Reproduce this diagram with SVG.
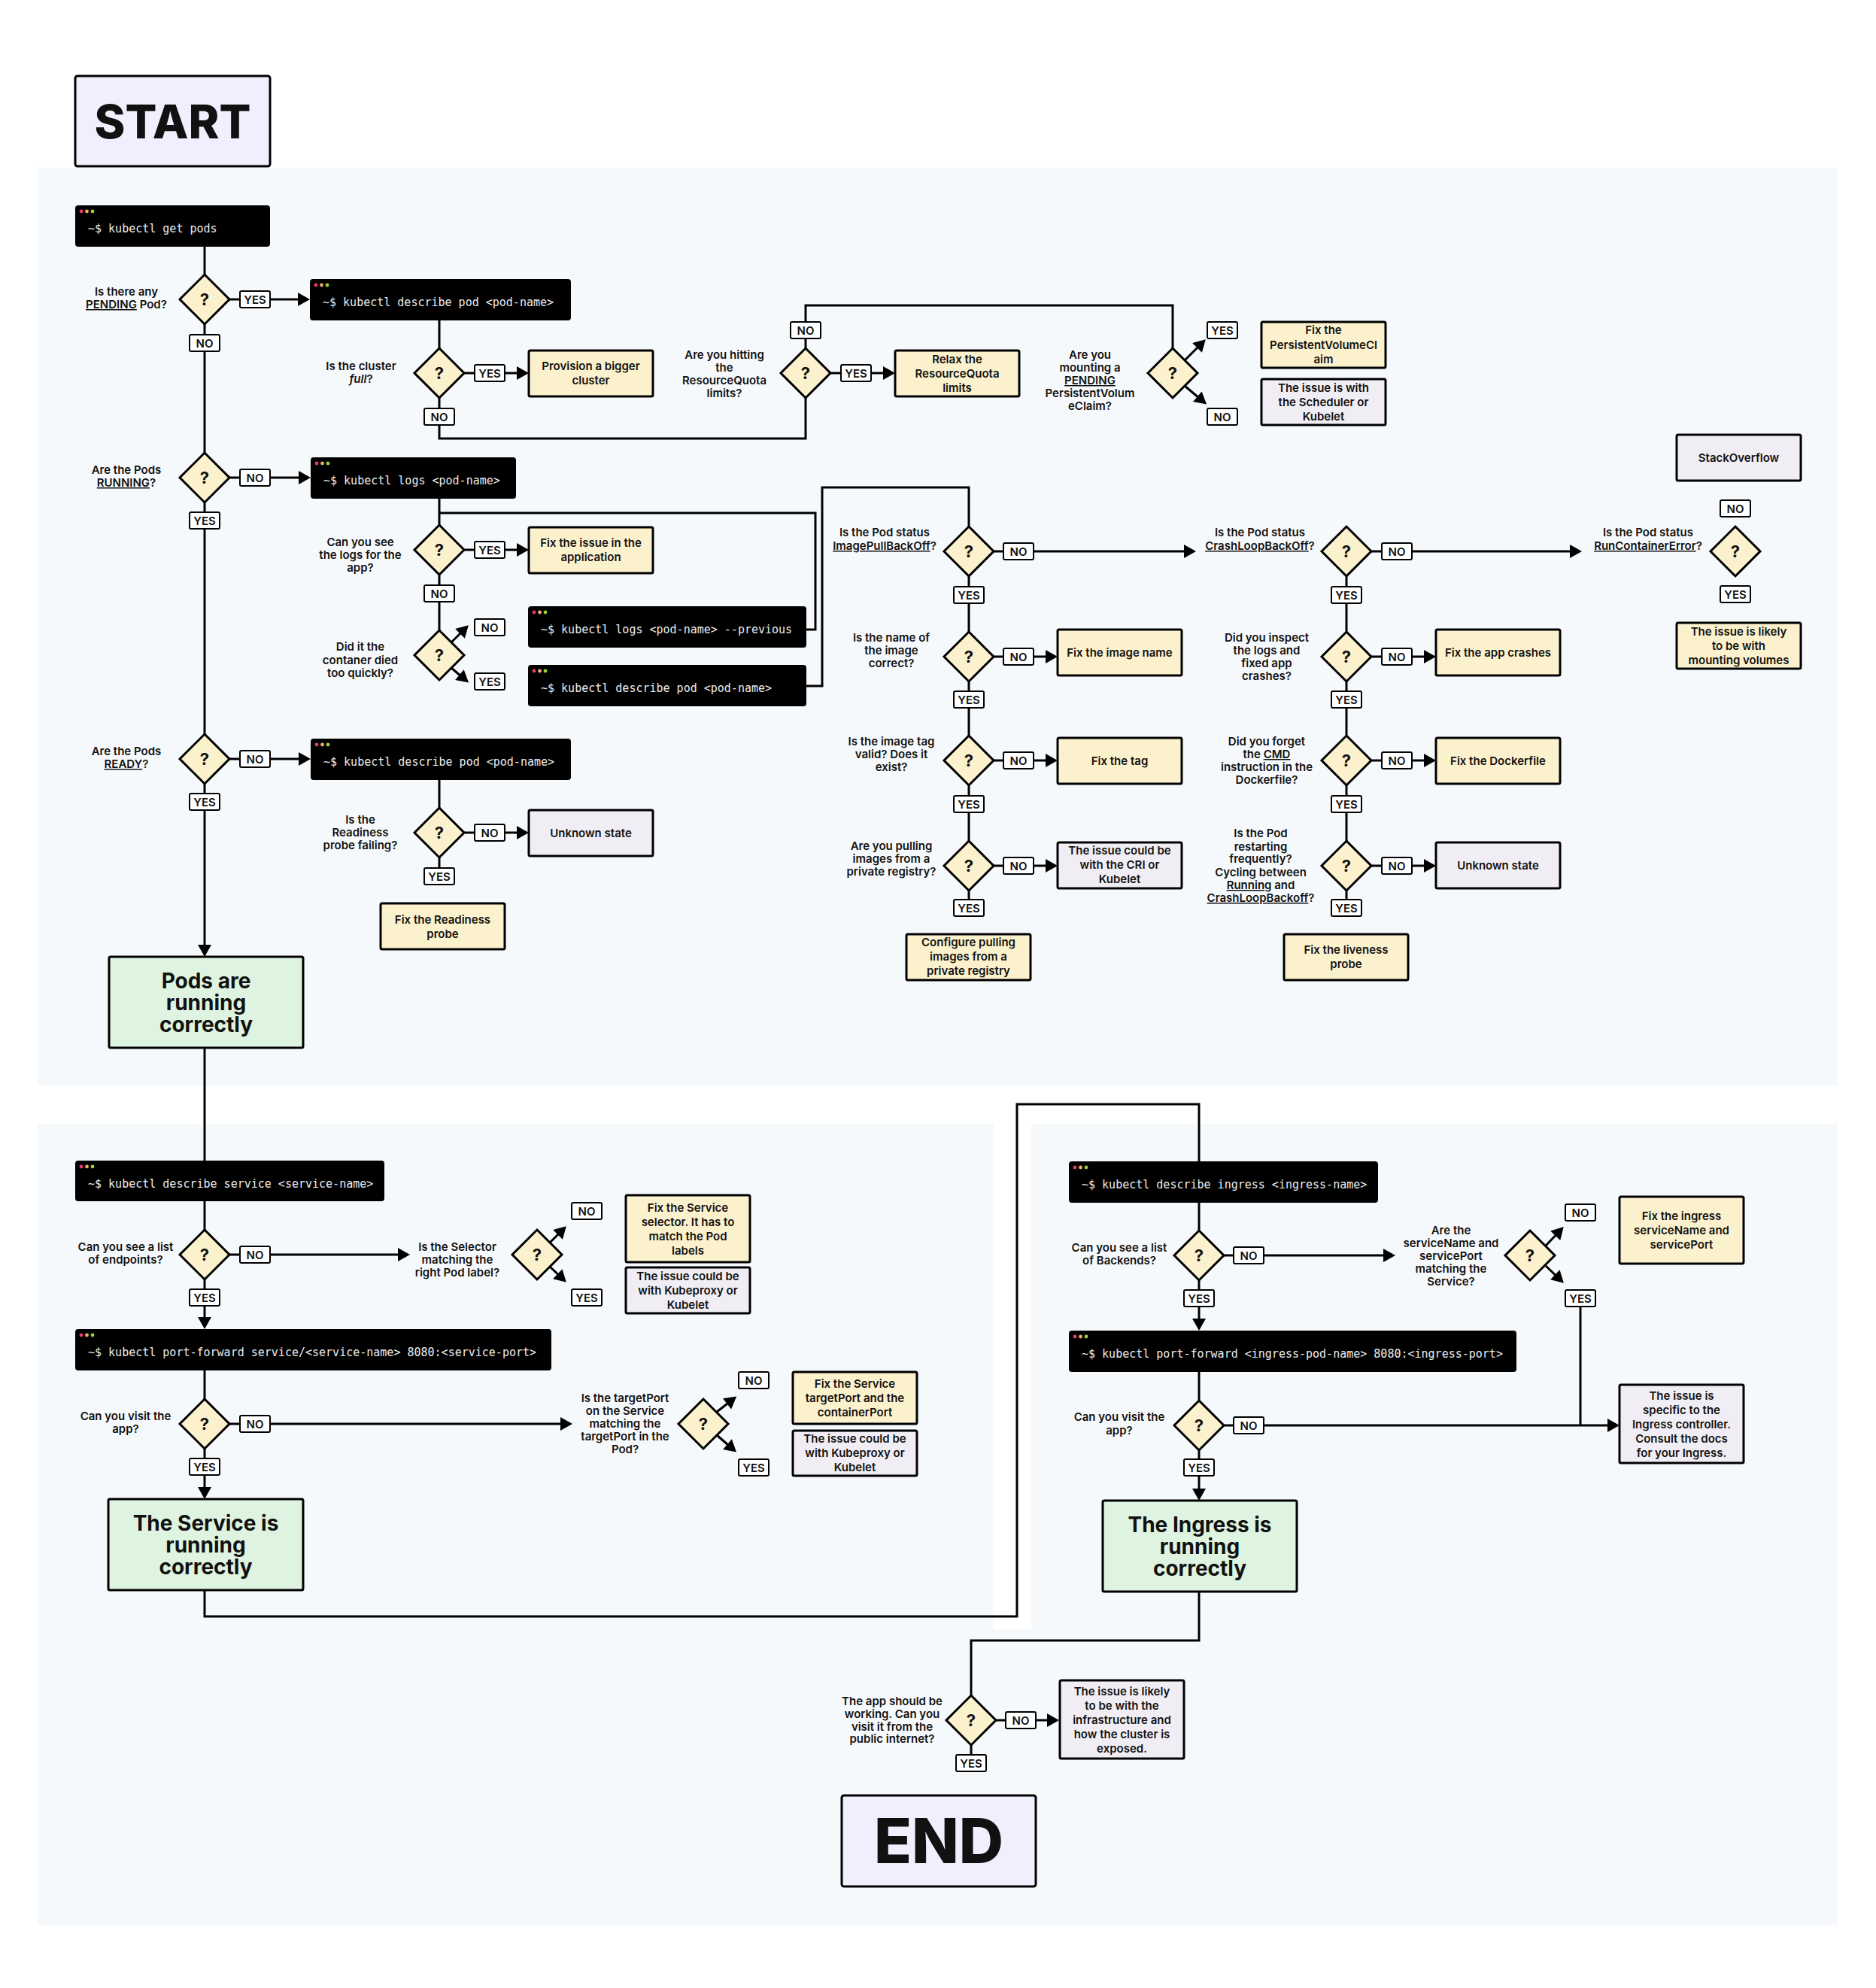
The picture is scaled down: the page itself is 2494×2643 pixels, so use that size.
<svg xmlns="http://www.w3.org/2000/svg" width="2494" height="2643" viewBox="0 0 2494 2643">
<defs>
<style>
.panel{fill:#f6f9fc}
.term{fill:#000}
.tt{font-family:"DejaVu Sans Mono","Liberation Mono",monospace;font-size:15px;fill:#ececec}
.box{stroke:#000;stroke-width:3}
.cream{fill:#fcf1cd}
.gray{fill:#f0eef4}
.green{fill:#dff4e0}
.lav{fill:#f0effd}
.dia{fill:#fcf1cd;stroke:#000;stroke-width:3;stroke-linejoin:miter}
.lb{fill:#fff;stroke:#000;stroke-width:2}
.t{font-family:Inter,"Noto Sans",sans-serif;font-weight:600;font-size:15px;fill:#111;text-anchor:middle}
.q{font-size:22px;font-weight:700}
.big{font-size:28px;font-weight:700}
.huge{font-weight:800}
.u{text-decoration:underline}
.i{font-style:italic}
.c{fill:none;stroke:#000;stroke-width:3}
.ca{fill:none;stroke:#000;stroke-width:3;marker-end:url(#ah)}
.d1{fill:#ee3a6c}.d2{fill:#eab06a}.d3{fill:#9fd131}
</style>
<marker id="ah" markerUnits="userSpaceOnUse" markerWidth="18" markerHeight="18" viewBox="0 0 16 18" refX="12" refY="9" orient="auto"><path d="M0,0 L16,9 L0,18 z" fill="#000"/></marker>
<g id="dots"><circle class="d1" cx="8" cy="8" r="2.4"/><circle class="d2" cx="15.5" cy="8" r="2.4"/><circle class="d3" cx="23" cy="8" r="2.4"/></g>
<polygon id="dm" points="0,-33 33,0 0,33 -33,0"/>
</defs>

<g id="panels">
<rect class="panel" x="50" y="223" width="2393" height="1220"/>
<rect class="panel" x="50" y="1494" width="1271" height="672"/>
<rect class="panel" x="1371" y="1494" width="1072" height="672"/>
<rect class="panel" x="50" y="2166" width="2393" height="393"/>
</g>

<g id="connectors">
<path class="c" d="M272,328 V365"/>
<path class="ca" d="M305,398 H408"/>
<path class="c" d="M272,431 V602"/>
<path class="c" d="M584,426 V463"/>
<path class="ca" d="M617,496 H699"/>
<path class="c" d="M584,529 V583 H1071 V529"/>
<path class="c" d="M1071,463 V406 H1559 V463"/>
<path class="ca" d="M1104,496 H1186"/>
<path class="ca" d="M1575,479 L1600,454"/>
<path class="ca" d="M1575,513 L1601,535"/>

<path class="ca" d="M305,635 H409"/>
<path class="c" d="M272,668 V976"/>
<path class="c" d="M584,663 V698"/>
<path class="c" d="M584,682 H1084 V837 H1072"/>
<path class="ca" d="M617,731 H699"/>
<path class="c" d="M584,764 V838"/>
<path class="ca" d="M600,854 L620,834"/>
<path class="ca" d="M600,888 L620,905"/>
<path class="c" d="M1072,912 H1093 V648 H1288 V700"/>

<path class="ca" d="M305,1009 H409"/>
<path class="ca" d="M272,1042 V1268"/>
<path class="c" d="M584,1037 V1074"/>
<path class="ca" d="M617,1107 H699"/>
<path class="c" d="M584,1140 V1154"/>

<path class="ca" d="M1321,733 H1586"/>
<path class="c" d="M1288,766 V840"/>
<path class="ca" d="M1321,873 H1402"/>
<path class="c" d="M1288,906 V979"/>
<path class="ca" d="M1321,1011 H1402"/>
<path class="c" d="M1288,1044 V1118"/>
<path class="ca" d="M1321,1151 H1402"/>
<path class="c" d="M1288,1184 V1196"/>

<path class="ca" d="M1823,733 H2099"/>
<path class="c" d="M1790,766 V840"/>
<path class="ca" d="M1823,873 H1905"/>
<path class="c" d="M1790,906 V979"/>
<path class="ca" d="M1823,1011 H1905"/>
<path class="c" d="M1790,1044 V1118"/>
<path class="ca" d="M1823,1151 H1905"/>
<path class="c" d="M1790,1184 V1196"/>

<path class="c" d="M272,1393 V1543"/>
<path class="c" d="M272,1597 V1635"/>
<path class="ca" d="M305,1668 H541"/>
<path class="ca" d="M731,1652 L750,1633"/>
<path class="ca" d="M731,1684 L750,1702"/>
<path class="ca" d="M272,1701 V1763"/>
<path class="c" d="M272,1822 V1860"/>
<path class="ca" d="M305,1893 H757"/>
<path class="ca" d="M953,1877 L976,1859"/>
<path class="ca" d="M953,1908 L976,1928"/>
<path class="ca" d="M272,1926 V1989"/>
<path class="c" d="M272,2114 V2149 H1352 V1468 H1594 V1544"/>

<path class="c" d="M1594,1599 V1636"/>
<path class="ca" d="M1627,1669 H1851"/>
<path class="ca" d="M2055,1656 L2076,1634"/>
<path class="ca" d="M2055,1683 L2076,1703"/>
<path class="c" d="M2101,1737 V1895"/>
<path class="ca" d="M1594,1702 V1765"/>
<path class="c" d="M1594,1824 V1861"/>
<path class="ca" d="M1627,1895 H2149"/>
<path class="ca" d="M1594,1928 V1991"/>
<path class="c" d="M1594,2116 V2181 H1291 V2254"/>
<path class="ca" d="M1324,2287 H1404"/>
<path class="c" d="M1291,2320 V2333"/>
</g>

<g id="edge-labels">
<g><rect class="lb" x="319" y="387" width="40" height="22" rx="2"/><text class="t" x="339" y="403.5">YES</text></g>
<g><rect class="lb" x="252" y="445" width="40" height="22" rx="2"/><text class="t" x="272" y="461.5">NO</text></g>
<g><rect class="lb" x="631" y="485" width="40" height="22" rx="2"/><text class="t" x="651" y="501.5">YES</text></g>
<g><rect class="lb" x="564" y="543" width="40" height="22" rx="2"/><text class="t" x="584" y="559.5">NO</text></g>
<g><rect class="lb" x="1051" y="428" width="40" height="22" rx="2"/><text class="t" x="1071" y="444.5">NO</text></g>
<g><rect class="lb" x="1118" y="485" width="40" height="22" rx="2"/><text class="t" x="1138" y="501.5">YES</text></g>
<g><rect class="lb" x="1605" y="428" width="40" height="22" rx="2"/><text class="t" x="1625" y="444.5">YES</text></g>
<g><rect class="lb" x="1605" y="543" width="40" height="22" rx="2"/><text class="t" x="1625" y="559.5">NO</text></g>

<g><rect class="lb" x="319" y="624" width="40" height="22" rx="2"/><text class="t" x="339" y="640.5">NO</text></g>
<g><rect class="lb" x="252" y="681" width="40" height="22" rx="2"/><text class="t" x="272" y="697.5">YES</text></g>
<g><rect class="lb" x="631" y="720" width="40" height="22" rx="2"/><text class="t" x="651" y="736.5">YES</text></g>
<g><rect class="lb" x="564" y="778" width="40" height="22" rx="2"/><text class="t" x="584" y="794.5">NO</text></g>
<g><rect class="lb" x="631" y="823" width="40" height="22" rx="2"/><text class="t" x="651" y="839.5">NO</text></g>
<g><rect class="lb" x="631" y="895" width="40" height="22" rx="2"/><text class="t" x="651" y="911.5">YES</text></g>
<g><rect class="lb" x="319" y="998" width="40" height="22" rx="2"/><text class="t" x="339" y="1014.5">NO</text></g>
<g><rect class="lb" x="252" y="1055" width="40" height="22" rx="2"/><text class="t" x="272" y="1071.5">YES</text></g>
<g><rect class="lb" x="631" y="1096" width="40" height="22" rx="2"/><text class="t" x="651" y="1112.5">NO</text></g>
<g><rect class="lb" x="564" y="1154" width="40" height="22" rx="2"/><text class="t" x="584" y="1170.5">YES</text></g>

<g><rect class="lb" x="1334" y="722" width="40" height="22" rx="2"/><text class="t" x="1354" y="738.5">NO</text></g>
<g><rect class="lb" x="1268" y="780" width="40" height="22" rx="2"/><text class="t" x="1288" y="796.5">YES</text></g>
<g><rect class="lb" x="1334" y="862" width="40" height="22" rx="2"/><text class="t" x="1354" y="878.5">NO</text></g>
<g><rect class="lb" x="1268" y="919" width="40" height="22" rx="2"/><text class="t" x="1288" y="935.5">YES</text></g>
<g><rect class="lb" x="1334" y="1000" width="40" height="22" rx="2"/><text class="t" x="1354" y="1016.5">NO</text></g>
<g><rect class="lb" x="1268" y="1058" width="40" height="22" rx="2"/><text class="t" x="1288" y="1074.5">YES</text></g>
<g><rect class="lb" x="1334" y="1140" width="40" height="22" rx="2"/><text class="t" x="1354" y="1156.5">NO</text></g>
<g><rect class="lb" x="1268" y="1196" width="40" height="22" rx="2"/><text class="t" x="1288" y="1212.5">YES</text></g>

<g><rect class="lb" x="1837" y="722" width="40" height="22" rx="2"/><text class="t" x="1857" y="738.5">NO</text></g>
<g><rect class="lb" x="1770" y="780" width="40" height="22" rx="2"/><text class="t" x="1790" y="796.5">YES</text></g>
<g><rect class="lb" x="1837" y="862" width="40" height="22" rx="2"/><text class="t" x="1857" y="878.5">NO</text></g>
<g><rect class="lb" x="1770" y="919" width="40" height="22" rx="2"/><text class="t" x="1790" y="935.5">YES</text></g>
<g><rect class="lb" x="1837" y="1000" width="40" height="22" rx="2"/><text class="t" x="1857" y="1016.5">NO</text></g>
<g><rect class="lb" x="1770" y="1058" width="40" height="22" rx="2"/><text class="t" x="1790" y="1074.5">YES</text></g>
<g><rect class="lb" x="1837" y="1140" width="40" height="22" rx="2"/><text class="t" x="1857" y="1156.5">NO</text></g>
<g><rect class="lb" x="1770" y="1196" width="40" height="22" rx="2"/><text class="t" x="1790" y="1212.5">YES</text></g>

<g><rect class="lb" x="2287" y="665" width="40" height="22" rx="2"/><text class="t" x="2307" y="681.5">NO</text></g>
<g><rect class="lb" x="2287" y="779" width="40" height="22" rx="2"/><text class="t" x="2307" y="795.5">YES</text></g>

<g><rect class="lb" x="319" y="1657" width="40" height="22" rx="2"/><text class="t" x="339" y="1673.5">NO</text></g>
<g><rect class="lb" x="760" y="1599" width="40" height="22" rx="2"/><text class="t" x="780" y="1615.5">NO</text></g>
<g><rect class="lb" x="760" y="1714" width="40" height="22" rx="2"/><text class="t" x="780" y="1730.5">YES</text></g>
<g><rect class="lb" x="252" y="1714" width="40" height="22" rx="2"/><text class="t" x="272" y="1730.5">YES</text></g>
<g><rect class="lb" x="319" y="1882" width="40" height="22" rx="2"/><text class="t" x="339" y="1898.5">NO</text></g>
<g><rect class="lb" x="982" y="1824" width="40" height="22" rx="2"/><text class="t" x="1002" y="1840.5">NO</text></g>
<g><rect class="lb" x="982" y="1940" width="40" height="22" rx="2"/><text class="t" x="1002" y="1956.5">YES</text></g>
<g><rect class="lb" x="252" y="1939" width="40" height="22" rx="2"/><text class="t" x="272" y="1955.5">YES</text></g>

<g><rect class="lb" x="1640" y="1658" width="40" height="22" rx="2"/><text class="t" x="1660" y="1674.5">NO</text></g>
<g><rect class="lb" x="2081" y="1601" width="40" height="22" rx="2"/><text class="t" x="2101" y="1617.5">NO</text></g>
<g><rect class="lb" x="2081" y="1715" width="40" height="22" rx="2"/><text class="t" x="2101" y="1731.5">YES</text></g>
<g><rect class="lb" x="1574" y="1715" width="40" height="22" rx="2"/><text class="t" x="1594" y="1731.5">YES</text></g>
<g><rect class="lb" x="1640" y="1884" width="40" height="22" rx="2"/><text class="t" x="1660" y="1900.5">NO</text></g>
<g><rect class="lb" x="1574" y="1940" width="40" height="22" rx="2"/><text class="t" x="1594" y="1956.5">YES</text></g>
<g><rect class="lb" x="1337" y="2276" width="40" height="22" rx="2"/><text class="t" x="1357" y="2292.5">NO</text></g>
<g><rect class="lb" x="1271" y="2333" width="40" height="22" rx="2"/><text class="t" x="1291" y="2349.5">YES</text></g>
</g>

<g id="start"><rect class="box lav" x="100" y="101" width="259" height="120" rx="3"/><text class="t huge" x="229.5" y="184" style="font-size:62px">START</text></g>
<g id="end"><rect class="box lav" x="1119" y="2387" width="258" height="121" rx="3"/><text class="t huge" x="1248" y="2477" style="font-size:82px">END</text></g>

<g id="term-get-pods"><rect class="term" x="100" y="273" width="259" height="55" rx="4"/><use href="#dots" x="100" y="273"/><text class="tt" x="117" y="309">~$ kubectl get pods</text></g>
<g id="term-describe-pod-1"><rect class="term" x="412" y="371" width="347" height="55" rx="4"/><use href="#dots" x="412" y="371"/><text class="tt" x="429" y="407">~$ kubectl describe pod &lt;pod-name&gt;</text></g>
<g id="term-logs"><rect class="term" x="413" y="608" width="273" height="55" rx="4"/><use href="#dots" x="413" y="608"/><text class="tt" x="430" y="644">~$ kubectl logs &lt;pod-name&gt;</text></g>
<g id="term-logs-previous"><rect class="term" x="702" y="806" width="370" height="55" rx="4"/><use href="#dots" x="702" y="806"/><text class="tt" x="719" y="842">~$ kubectl logs &lt;pod-name&gt; --previous</text></g>
<g id="term-describe-pod-2"><rect class="term" x="702" y="884" width="370" height="55" rx="4"/><use href="#dots" x="702" y="884"/><text class="tt" x="719" y="920">~$ kubectl describe pod &lt;pod-name&gt;</text></g>
<g id="term-describe-pod-3"><rect class="term" x="413" y="982" width="346" height="55" rx="4"/><use href="#dots" x="413" y="982"/><text class="tt" x="430" y="1018">~$ kubectl describe pod &lt;pod-name&gt;</text></g>
<g id="term-describe-service"><rect class="term" x="100" y="1543" width="411" height="54" rx="4"/><use href="#dots" x="100" y="1543"/><text class="tt" x="117" y="1579">~$ kubectl describe service &lt;service-name&gt;</text></g>
<g id="term-pf-service"><rect class="term" x="100" y="1767" width="633" height="55" rx="4"/><use href="#dots" x="100" y="1767"/><text class="tt" x="117" y="1803">~$ kubectl port-forward service/&lt;service-name&gt; 8080:&lt;service-port&gt;</text></g>
<g id="term-describe-ingress"><rect class="term" x="1421" y="1544" width="411" height="55" rx="4"/><use href="#dots" x="1421" y="1544"/><text class="tt" x="1438" y="1580">~$ kubectl describe ingress &lt;ingress-name&gt;</text></g>
<g id="term-pf-ingress"><rect class="term" x="1421" y="1769" width="595" height="55" rx="4"/><use href="#dots" x="1421" y="1769"/><text class="tt" x="1438" y="1805">~$ kubectl port-forward &lt;ingress-pod-name&gt; 8080:&lt;ingress-port&gt;</text></g>

<g id="q-pending"><use href="#dm" class="dia" x="272" y="398"/><text class="t q" x="272" y="406">?</text><text class="t"><tspan x="168" y="393">Is there any</tspan><tspan x="168" y="410"><tspan class="u">PENDING</tspan> Pod?</tspan></text></g>
<g id="q-cluster-full"><use href="#dm" class="dia" x="584" y="496"/><text class="t q" x="584" y="504">?</text><text class="t"><tspan x="480" y="492">Is the cluster</tspan><tspan x="480" y="509"><tspan class="i">full</tspan>?</tspan></text></g>
<g id="q-quota"><use href="#dm" class="dia" x="1071" y="496"/><text class="t q" x="1071" y="504">?</text><text class="t"><tspan x="963" y="477">Are you hitting</tspan><tspan x="963" y="494">the</tspan><tspan x="963" y="511">ResourceQuota</tspan><tspan x="963" y="528">limits?</tspan></text></g>
<g id="q-pvc"><use href="#dm" class="dia" x="1559" y="496"/><text class="t q" x="1559" y="504">?</text><text class="t"><tspan x="1449" y="477">Are you</tspan><tspan x="1449" y="494">mounting a</tspan><tspan x="1449" y="511" class="u">PENDING</tspan><tspan x="1449" y="528">PersistentVolum</tspan><tspan x="1449" y="545">eClaim?</tspan></text></g>
<g id="q-running"><use href="#dm" class="dia" x="272" y="635"/><text class="t q" x="272" y="643">?</text><text class="t"><tspan x="168" y="630">Are the Pods</tspan><tspan x="168" y="647"><tspan class="u">RUNNING</tspan>?</tspan></text></g>
<g id="q-logs"><use href="#dm" class="dia" x="584" y="731"/><text class="t q" x="584" y="739">?</text><text class="t"><tspan x="479" y="726">Can you see</tspan><tspan x="479" y="743">the logs for the</tspan><tspan x="479" y="760">app?</tspan></text></g>
<g id="q-died"><use href="#dm" class="dia" x="584" y="871"/><text class="t q" x="584" y="879">?</text><text class="t"><tspan x="479" y="865">Did it the</tspan><tspan x="479" y="883">contaner died</tspan><tspan x="479" y="900">too quickly?</tspan></text></g>
<g id="q-ready"><use href="#dm" class="dia" x="272" y="1009"/><text class="t q" x="272" y="1017">?</text><text class="t"><tspan x="168" y="1004">Are the Pods</tspan><tspan x="168" y="1021"><tspan class="u">READY</tspan>?</tspan></text></g>
<g id="q-readiness"><use href="#dm" class="dia" x="584" y="1107"/><text class="t q" x="584" y="1115">?</text><text class="t"><tspan x="479" y="1095">Is the</tspan><tspan x="479" y="1112">Readiness</tspan><tspan x="479" y="1129">probe failing?</tspan></text></g>

<g id="q-imagepull"><use href="#dm" class="dia" x="1288" y="733"/><text class="t q" x="1288" y="741">?</text><text class="t"><tspan x="1176" y="713">Is the Pod status</tspan><tspan x="1176" y="731"><tspan class="u">ImagePullBackOff</tspan>?</tspan></text></g>
<g id="q-image-name"><use href="#dm" class="dia" x="1288" y="873"/><text class="t q" x="1288" y="881">?</text><text class="t"><tspan x="1185" y="853">Is the name of</tspan><tspan x="1185" y="870">the image</tspan><tspan x="1185" y="887">correct?</tspan></text></g>
<g id="q-image-tag"><use href="#dm" class="dia" x="1288" y="1011"/><text class="t q" x="1288" y="1019">?</text><text class="t"><tspan x="1185" y="991">Is the image tag</tspan><tspan x="1185" y="1008">valid? Does it</tspan><tspan x="1185" y="1025">exist?</tspan></text></g>
<g id="q-private"><use href="#dm" class="dia" x="1288" y="1151"/><text class="t q" x="1288" y="1159">?</text><text class="t"><tspan x="1185" y="1130">Are you pulling</tspan><tspan x="1185" y="1147">images from a</tspan><tspan x="1185" y="1164">private registry?</tspan></text></g>

<g id="q-crashloop"><use href="#dm" class="dia" x="1790" y="733"/><text class="t q" x="1790" y="741">?</text><text class="t"><tspan x="1675" y="713">Is the Pod status</tspan><tspan x="1675" y="731"><tspan class="u">CrashLoopBackOff</tspan>?</tspan></text></g>
<g id="q-inspect"><use href="#dm" class="dia" x="1790" y="873"/><text class="t q" x="1790" y="881">?</text><text class="t"><tspan x="1684" y="853">Did you inspect</tspan><tspan x="1684" y="870">the logs and</tspan><tspan x="1684" y="887">fixed app</tspan><tspan x="1684" y="904">crashes?</tspan></text></g>
<g id="q-cmd"><use href="#dm" class="dia" x="1790" y="1011"/><text class="t q" x="1790" y="1019">?</text><text class="t"><tspan x="1684" y="991">Did you forget</tspan><tspan x="1684" y="1008">the <tspan class="u">CMD</tspan></tspan><tspan x="1684" y="1025">instruction in the</tspan><tspan x="1684" y="1042">Dockerfile?</tspan></text></g>
<g id="q-restarting"><use href="#dm" class="dia" x="1790" y="1151"/><text class="t q" x="1790" y="1159">?</text><text class="t"><tspan x="1676" y="1113">Is the Pod</tspan><tspan x="1676" y="1131">restarting</tspan><tspan x="1676" y="1147">frequently?</tspan><tspan x="1676" y="1165">Cycling between</tspan><tspan x="1676" y="1182"><tspan class="u">Running</tspan> and</tspan><tspan x="1676" y="1199"><tspan class="u">CrashLoopBackoff</tspan>?</tspan></text></g>
<g id="q-runcontainer"><use href="#dm" class="dia" x="2307" y="733"/><text class="t q" x="2307" y="741">?</text><text class="t"><tspan x="2191" y="713">Is the Pod status</tspan><tspan x="2191" y="731"><tspan class="u">RunContainerError</tspan>?</tspan></text></g>

<g id="q-endpoints"><use href="#dm" class="dia" x="272" y="1668"/><text class="t q" x="272" y="1676">?</text><text class="t"><tspan x="167" y="1663">Can you see a list</tspan><tspan x="167" y="1680">of endpoints?</tspan></text></g>
<g id="q-selector"><use href="#dm" class="dia" x="714" y="1668"/><text class="t q" x="714" y="1676">?</text><text class="t"><tspan x="608" y="1663">Is the Selector</tspan><tspan x="608" y="1680">matching the</tspan><tspan x="608" y="1697">right Pod label?</tspan></text></g>
<g id="q-visit-service"><use href="#dm" class="dia" x="272" y="1893"/><text class="t q" x="272" y="1901">?</text><text class="t"><tspan x="167" y="1888">Can you visit the</tspan><tspan x="167" y="1905">app?</tspan></text></g>
<g id="q-targetport"><use href="#dm" class="dia" x="935" y="1893"/><text class="t q" x="935" y="1901">?</text><text class="t"><tspan x="831" y="1864">Is the targetPort</tspan><tspan x="831" y="1881">on the Service</tspan><tspan x="831" y="1898">matching the</tspan><tspan x="831" y="1915">targetPort in the</tspan><tspan x="831" y="1932">Pod?</tspan></text></g>
<g id="q-backends"><use href="#dm" class="dia" x="1594" y="1669"/><text class="t q" x="1594" y="1677">?</text><text class="t"><tspan x="1488" y="1664">Can you see a list</tspan><tspan x="1488" y="1681">of Backends?</tspan></text></g>
<g id="q-servicename"><use href="#dm" class="dia" x="2034" y="1669"/><text class="t q" x="2034" y="1677">?</text><text class="t"><tspan x="1929" y="1641">Are the</tspan><tspan x="1929" y="1658">serviceName and</tspan><tspan x="1929" y="1675">servicePort</tspan><tspan x="1929" y="1692">matching the</tspan><tspan x="1929" y="1709">Service?</tspan></text></g>
<g id="q-visit-ingress"><use href="#dm" class="dia" x="1594" y="1895"/><text class="t q" x="1594" y="1903">?</text><text class="t"><tspan x="1488" y="1889">Can you visit the</tspan><tspan x="1488" y="1907">app?</tspan></text></g>
<g id="q-public"><use href="#dm" class="dia" x="1291" y="2287"/><text class="t q" x="1291" y="2295">?</text><text class="t"><tspan x="1186" y="2267">The app should be</tspan><tspan x="1186" y="2284">working. Can you</tspan><tspan x="1186" y="2301">visit it from the</tspan><tspan x="1186" y="2317">public internet?</tspan></text></g>

<g id="r-provision"><rect class="box cream" x="703" y="466" width="165" height="61" rx="2"/><text class="t"><tspan x="785.5" y="492">Provision a bigger</tspan><tspan x="785.5" y="511">cluster</tspan></text></g>
<g id="r-relax"><rect class="box cream" x="1190" y="466" width="165" height="61" rx="2"/><text class="t"><tspan x="1272.5" y="483">Relax the</tspan><tspan x="1272.5" y="502">ResourceQuota</tspan><tspan x="1272.5" y="521">limits</tspan></text></g>
<g id="r-fix-pvc"><rect class="box cream" x="1677" y="428" width="165" height="61" rx="2"/><text class="t"><tspan x="1759.5" y="444">Fix the</tspan><tspan x="1759.5" y="464">PersistentVolumeCl</tspan><tspan x="1759.5" y="483">aim</tspan></text></g>
<g id="r-scheduler"><rect class="box gray" x="1677" y="504" width="165" height="61" rx="2"/><text class="t"><tspan x="1759.5" y="521">The issue is with</tspan><tspan x="1759.5" y="540">the Scheduler or</tspan><tspan x="1759.5" y="559">Kubelet</tspan></text></g>
<g id="r-stackoverflow"><rect class="box gray" x="2229" y="578" width="165" height="61" rx="2"/><text class="t" x="2311.5" y="614">StackOverflow</text></g>
<g id="r-volumes"><rect class="box cream" x="2229" y="828" width="165" height="61" rx="2"/><text class="t"><tspan x="2311.5" y="845">The issue is likely</tspan><tspan x="2311.5" y="864">to be with</tspan><tspan x="2311.5" y="883">mounting volumes</tspan></text></g>
<g id="r-fix-app"><rect class="box cream" x="703" y="701" width="165" height="61" rx="2"/><text class="t"><tspan x="785.5" y="727">Fix the issue in the</tspan><tspan x="785.5" y="746">application</tspan></text></g>
<g id="r-unknown-1"><rect class="box gray" x="703" y="1077" width="165" height="61" rx="2"/><text class="t" x="785.5" y="1112.5">Unknown state</text></g>
<g id="r-readiness"><rect class="box cream" x="506" y="1201" width="165" height="61" rx="2"/><text class="t"><tspan x="588.5" y="1228">Fix the Readiness</tspan><tspan x="588.5" y="1247">probe</tspan></text></g>
<g id="r-image-name"><rect class="box cream" x="1406" y="837" width="165" height="61" rx="2"/><text class="t" x="1488.5" y="873">Fix the image name</text></g>
<g id="r-tag"><rect class="box cream" x="1406" y="981" width="165" height="61" rx="2"/><text class="t" x="1488.5" y="1016.5">Fix the tag</text></g>
<g id="r-cri"><rect class="box gray" x="1406" y="1120" width="165" height="61" rx="2"/><text class="t"><tspan x="1488.5" y="1136">The issue could be</tspan><tspan x="1488.5" y="1155">with the CRI or</tspan><tspan x="1488.5" y="1174">Kubelet</tspan></text></g>
<g id="r-registry"><rect class="box cream" x="1205" y="1242" width="165" height="61" rx="2"/><text class="t"><tspan x="1287.5" y="1258">Configure pulling</tspan><tspan x="1287.5" y="1277">images from a</tspan><tspan x="1287.5" y="1296">private registry</tspan></text></g>
<g id="r-app-crashes"><rect class="box cream" x="1909" y="837" width="165" height="61" rx="2"/><text class="t" x="1991.5" y="873">Fix the app crashes</text></g>
<g id="r-dockerfile"><rect class="box cream" x="1909" y="981" width="165" height="61" rx="2"/><text class="t" x="1991.5" y="1016.5">Fix the Dockerfile</text></g>
<g id="r-unknown-2"><rect class="box gray" x="1909" y="1120" width="165" height="61" rx="2"/><text class="t" x="1991.5" y="1155.5">Unknown state</text></g>
<g id="r-liveness"><rect class="box cream" x="1707" y="1242" width="165" height="61" rx="2"/><text class="t"><tspan x="1789.5" y="1268">Fix the liveness</tspan><tspan x="1789.5" y="1287">probe</tspan></text></g>
<g id="r-pods-ok"><rect class="box green" x="145" y="1272" width="258" height="121" rx="2"/><text class="t big"><tspan x="274" y="1314">Pods are</tspan><tspan x="274" y="1343">running</tspan><tspan x="274" y="1372">correctly</tspan></text></g>

<g id="r-fix-selector"><rect class="box cream" x="832" y="1589" width="165" height="89" rx="2"/><text class="t"><tspan x="914.5" y="1611">Fix the Service</tspan><tspan x="914.5" y="1630">selector. It has to</tspan><tspan x="914.5" y="1649">match the Pod</tspan><tspan x="914.5" y="1668">labels</tspan></text></g>
<g id="r-kubeproxy-1"><rect class="box gray" x="832" y="1685" width="165" height="61" rx="2"/><text class="t"><tspan x="914.5" y="1702">The issue could be</tspan><tspan x="914.5" y="1721">with Kubeproxy or</tspan><tspan x="914.5" y="1740">Kubelet</tspan></text></g>
<g id="r-fix-targetport"><rect class="box cream" x="1054" y="1824" width="165" height="69" rx="2"/><text class="t"><tspan x="1136.5" y="1845">Fix the Service</tspan><tspan x="1136.5" y="1864">targetPort and the</tspan><tspan x="1136.5" y="1883">containerPort</tspan></text></g>
<g id="r-kubeproxy-2"><rect class="box gray" x="1054" y="1902" width="165" height="60" rx="2"/><text class="t"><tspan x="1136.5" y="1918">The issue could be</tspan><tspan x="1136.5" y="1937">with Kubeproxy or</tspan><tspan x="1136.5" y="1956">Kubelet</tspan></text></g>
<g id="r-service-ok"><rect class="box green" x="144" y="1993" width="259" height="121" rx="2"/><text class="t big"><tspan x="273.5" y="2035">The Service is</tspan><tspan x="273.5" y="2064">running</tspan><tspan x="273.5" y="2093">correctly</tspan></text></g>

<g id="r-fix-ingress"><rect class="box cream" x="2153" y="1591" width="165" height="89" rx="2"/><text class="t"><tspan x="2235.5" y="1622">Fix the ingress</tspan><tspan x="2235.5" y="1641">serviceName and</tspan><tspan x="2235.5" y="1660">servicePort</tspan></text></g>
<g id="r-ingress-controller"><rect class="box gray" x="2153" y="1841" width="165" height="104" rx="2"/><text class="t"><tspan x="2235.5" y="1861">The issue is</tspan><tspan x="2235.5" y="1880">specific to the</tspan><tspan x="2235.5" y="1899">Ingress controller.</tspan><tspan x="2235.5" y="1918">Consult the docs</tspan><tspan x="2235.5" y="1937">for your Ingress.</tspan></text></g>
<g id="r-ingress-ok"><rect class="box green" x="1466" y="1995" width="258" height="121" rx="2"/><text class="t big"><tspan x="1595" y="2037">The Ingress is</tspan><tspan x="1595" y="2066">running</tspan><tspan x="1595" y="2095">correctly</tspan></text></g>
<g id="r-infra"><rect class="box gray" x="1409" y="2234" width="165" height="104" rx="2"/><text class="t"><tspan x="1491.5" y="2254">The issue is likely</tspan><tspan x="1491.5" y="2273">to be with the</tspan><tspan x="1491.5" y="2292">infrastructure and</tspan><tspan x="1491.5" y="2311">how the cluster is</tspan><tspan x="1491.5" y="2330">exposed.</tspan></text></g>
</svg>
